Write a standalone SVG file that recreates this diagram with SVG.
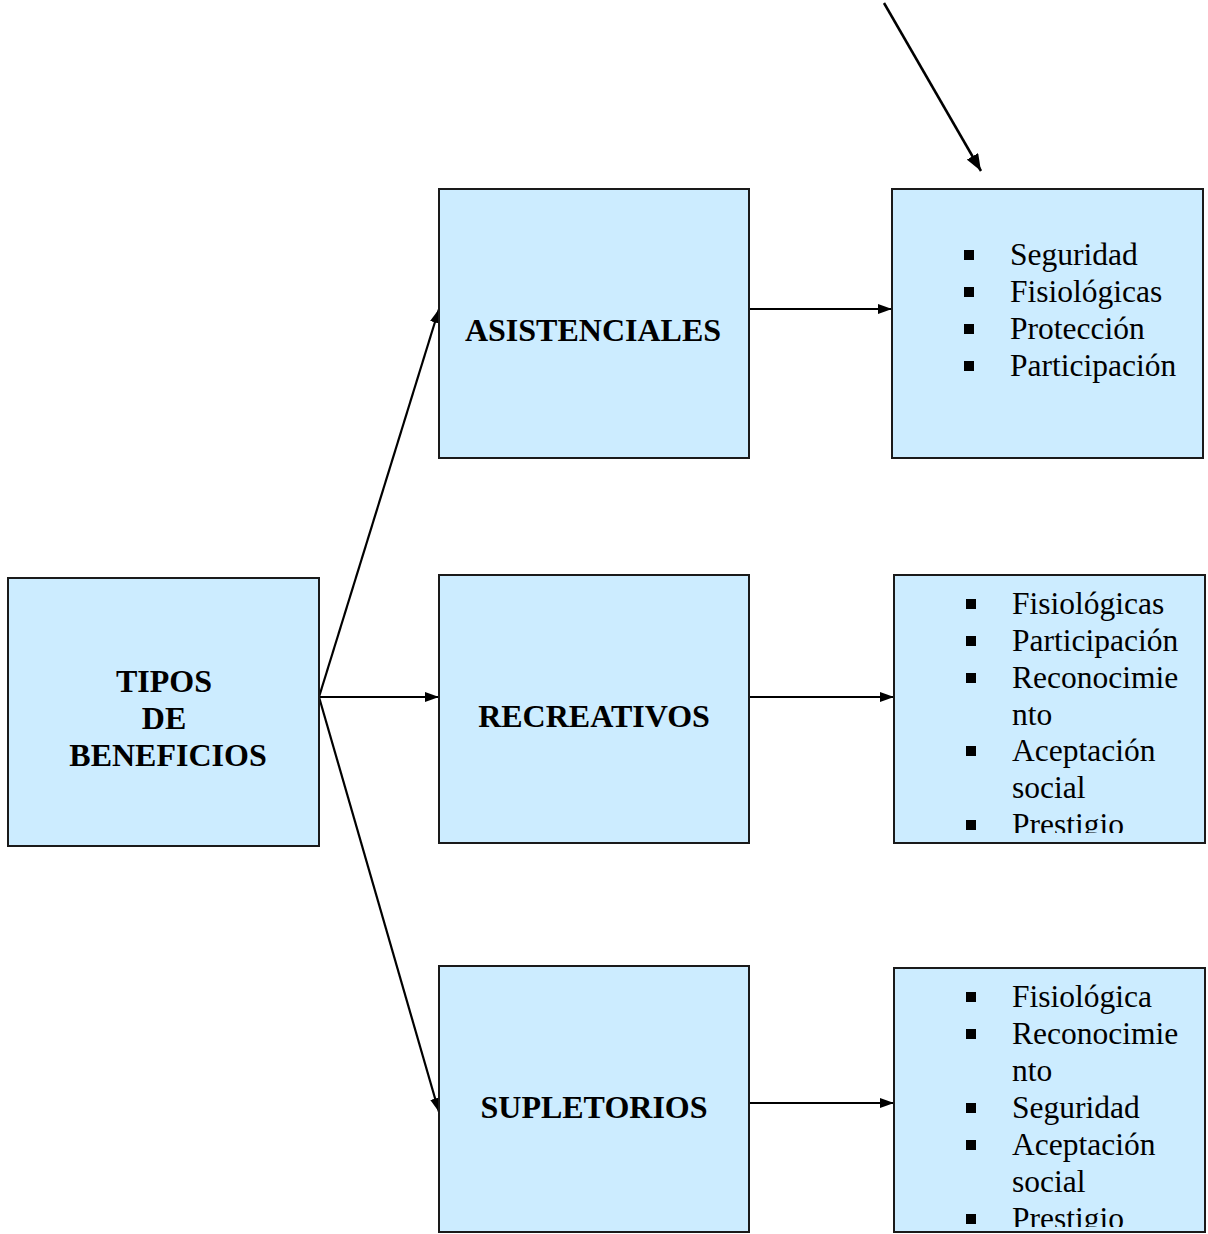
<svg xmlns="http://www.w3.org/2000/svg" width="1208" height="1234" viewBox="0 0 1208 1234">
  <defs>
    <marker id="arrow" viewBox="0 0 14 10" refX="14" refY="5" markerWidth="14" markerHeight="10" markerUnits="userSpaceOnUse" orient="auto">
      <path d="M0,0 L14,5 L0,10 Z" fill="#000"/>
    </marker>
    <marker id="arrow-big" viewBox="0 0 17 13" refX="17" refY="6.5" markerWidth="17" markerHeight="13" markerUnits="userSpaceOnUse" orient="auto">
      <path d="M0,0 L17,6.5 L0,13 Z" fill="#000"/>
    </marker>
    <clipPath id="clipA"><rect x="894" y="191" width="307" height="265"/></clipPath>
    <clipPath id="clipB"><rect x="896" y="577" width="307" height="256"/></clipPath>
    <clipPath id="clipC"><rect x="896" y="970" width="307" height="257"/></clipPath>
  </defs>
  <style>
    .box { fill: #CCECFF; stroke: #1a1a1a; stroke-width: 2; }
    .title { font-family: "Liberation Serif", "Times New Roman", serif; font-weight: bold; font-size: 32px; fill: #000; text-anchor: middle; }
    .item { font-family: "Liberation Serif", "Times New Roman", serif; font-size: 31.5px; fill: #000; }
    .bullet { fill: #000; }
    .conn { stroke: #000; stroke-width: 2.2; fill: none; marker-end: url(#arrow); }
    .conn-big { stroke: #000; stroke-width: 2.5; fill: none; marker-end: url(#arrow-big); }
  </style>

  <!-- connectors -->
  <g id="connectors">
    <line class="conn-big" x1="884" y1="3" x2="981" y2="171"/>
    <line class="conn" x1="319" y1="697" x2="439" y2="309"/>
    <line class="conn" x1="319" y1="697" x2="439" y2="697"/>
    <line class="conn" x1="319" y1="697" x2="439" y2="1112"/>
    <line class="conn" x1="749" y1="309" x2="892" y2="309"/>
    <line class="conn" x1="749" y1="697" x2="894" y2="697"/>
    <line class="conn" x1="749" y1="1103" x2="894" y2="1103"/>
  </g>

  <!-- root node -->
  <g id="tipos">
    <rect class="box" x="8" y="578" width="311" height="268"/>
    <text class="title" x="164" y="692">TIPOS</text>
    <text class="title" x="164" y="729">DE</text>
    <text class="title" x="168" y="766">BENEFICIOS</text>
  </g>

  <!-- category nodes -->
  <g id="asistenciales">
    <rect class="box" x="439" y="189" width="310" height="269"/>
    <text class="title" x="593" y="341">ASISTENCIALES</text>
  </g>
  <g id="recreativos">
    <rect class="box" x="439" y="575" width="310" height="268"/>
    <text class="title" x="594" y="727">RECREATIVOS</text>
  </g>
  <g id="supletorios">
    <rect class="box" x="439" y="966" width="310" height="266"/>
    <text class="title" x="594" y="1118">SUPLETORIOS</text>
  </g>

  <!-- detail lists -->
  <g id="lista-asistenciales">
    <rect class="box" x="892" y="189" width="311" height="269"/>
    <g clip-path="url(#clipA)">
      <rect class="bullet" x="964" y="250" width="10" height="10"/>
      <text class="item" x="1010" y="265">Seguridad</text>
      <rect class="bullet" x="964" y="287" width="10" height="10"/>
      <text class="item" x="1010" y="302">Fisiológicas</text>
      <rect class="bullet" x="964" y="324" width="10" height="10"/>
      <text class="item" x="1010" y="339">Protección</text>
      <rect class="bullet" x="964" y="361" width="10" height="10"/>
      <text class="item" x="1010" y="376">Participación</text>
    </g>
  </g>
  <g id="lista-recreativos">
    <rect class="box" x="894" y="575" width="311" height="268"/>
    <g clip-path="url(#clipB)">
      <rect class="bullet" x="966" y="599" width="10" height="10"/>
      <text class="item" x="1012" y="614">Fisiológicas</text>
      <rect class="bullet" x="966" y="636" width="10" height="10"/>
      <text class="item" x="1012" y="651">Participación</text>
      <rect class="bullet" x="966" y="673" width="10" height="10"/>
      <text class="item" x="1012" y="688">Reconocimie</text>
      <text class="item" x="1012" y="725">nto</text>
      <rect class="bullet" x="966" y="746" width="10" height="10"/>
      <text class="item" x="1012" y="761">Aceptación</text>
      <text class="item" x="1012" y="798">social</text>
      <rect class="bullet" x="966" y="820" width="10" height="10"/>
      <text class="item" x="1012" y="835">Prestigio</text>
    </g>
  </g>
  <g id="lista-supletorios">
    <rect class="box" x="894" y="968" width="311" height="264"/>
    <g clip-path="url(#clipC)">
      <rect class="bullet" x="966" y="992" width="10" height="10"/>
      <text class="item" x="1012" y="1007">Fisiológica</text>
      <rect class="bullet" x="966" y="1029" width="10" height="10"/>
      <text class="item" x="1012" y="1044">Reconocimie</text>
      <text class="item" x="1012" y="1081">nto</text>
      <rect class="bullet" x="966" y="1103" width="10" height="10"/>
      <text class="item" x="1012" y="1118">Seguridad</text>
      <rect class="bullet" x="966" y="1140" width="10" height="10"/>
      <text class="item" x="1012" y="1155">Aceptación</text>
      <text class="item" x="1012" y="1192">social</text>
      <rect class="bullet" x="966" y="1214" width="10" height="10"/>
      <text class="item" x="1012" y="1229">Prestigio</text>
    </g>
  </g>
</svg>
